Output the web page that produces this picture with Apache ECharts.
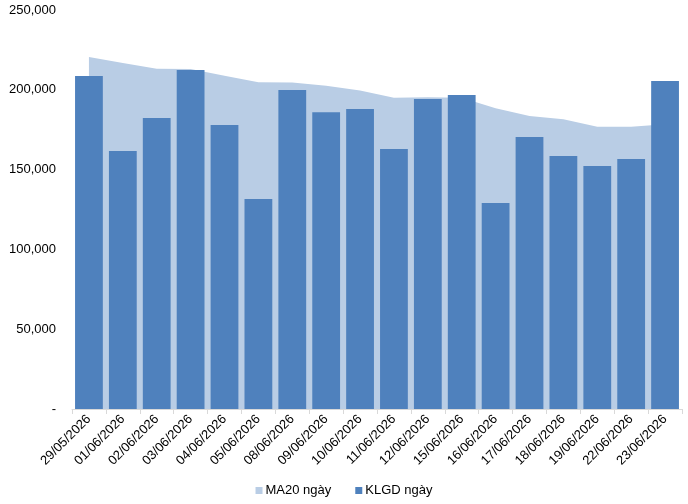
<!DOCTYPE html>
<html>
<head>
<meta charset="utf-8">
<script src="https://cdn.jsdelivr.net/npm/echarts@6/dist/echarts.min.js"></script>
<style>html,body{margin:0;padding:0;background:#fff}#c{width:688px;height:504px}</style>
</head>
<body>
<div id="c"></div>
<script>
const categories = ["29/05/2026","01/06/2026","02/06/2026","03/06/2026","04/06/2026","05/06/2026","08/06/2026","09/06/2026","10/06/2026","11/06/2026","12/06/2026","15/06/2026","16/06/2026","17/06/2026","18/06/2026","19/06/2026","22/06/2026","23/06/2026"];
const klgd = [208600,161700,182300,212400,178000,131600,199900,186000,188000,162900,194200,196700,129000,170400,158500,152300,156600,205500];
const ma20 = [220500,216800,213200,213000,208800,204800,204500,202600,199500,195000,195300,195000,188400,183600,181500,176900,176900,178400];
const yTicks = [0,50000,100000,150000,200000,250000];

const font = '"Liberation Sans", Arial, sans-serif';
const chart = echarts.init(document.getElementById('c'), null, {renderer:'canvas'});
chart.setOption({
  animation:false,
  backgroundColor:'#fff',
  grid:{left:72,right:6,top:10,bottom:95,containLabel:false},
  legend:{
    bottom:2,left:'center',itemWidth:7,itemHeight:7,itemGap:24,
    icon:'rect',
    textStyle:{fontFamily:font,fontSize:13,color:'#000',padding:[0,0,0,-2]},
    data:['MA20 ngày','KLGD ngày']
  },
  xAxis:{
    type:'category',data:categories,boundaryGap:true,
    axisLine:{lineStyle:{color:'#d9d9d9'}},
    axisTick:{show:true,length:5,lineStyle:{color:'#d9d9d9'}},
    axisLabel:{rotate:45,fontFamily:font,fontSize:13,color:'#000',margin:8,interval:0}
  },
  yAxis:{
    type:'value',min:0,max:250000,interval:50000,
    axisLine:{show:false},axisTick:{show:false},splitLine:{show:false},
    axisLabel:{fontFamily:font,fontSize:13,color:'#000',margin:16,
      formatter:v=> v===0 ? '-' : v.toLocaleString('en-US')}
  },
  series:[
    {name:'MA20 ngày',type:'line',data:ma20,symbol:'none',
     lineStyle:{width:0,color:'#b9cde5'},itemStyle:{color:'#b9cde5'},
     areaStyle:{color:'#b9cde5',opacity:1},z:1},
    {name:'KLGD ngày',type:'bar',data:klgd,barCategoryGap:'18%',
     itemStyle:{color:'#4f81bd'},z:2}
  ]
});
</script>
</body>
</html>
